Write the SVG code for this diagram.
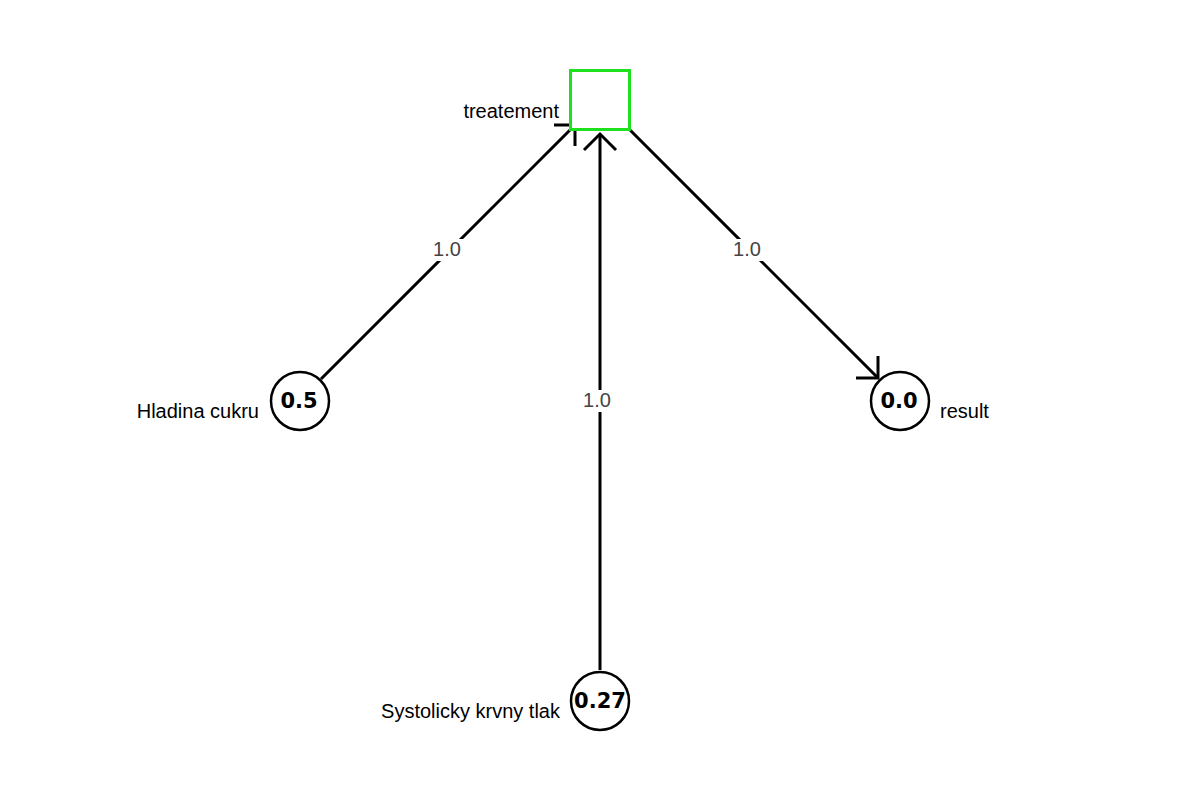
<svg xmlns="http://www.w3.org/2000/svg" width="1200" height="800" viewBox="0 0 1200 800">
<style>
.edge{stroke:#000;stroke-width:3;fill:none}
.head{stroke:#000;stroke-width:3;fill:none}
.elabel{font-family:"Liberation Sans",Arial,sans-serif;font-size:20px;fill:#444;text-anchor:middle}
.lbg{fill:#fff}
.node circle{fill:#fff;stroke:#000;stroke-width:2.5}
.val{font-family:"DejaVu Sans",Verdana,sans-serif;font-size:21px;font-weight:bold;text-anchor:middle}
.name{font-family:"Liberation Sans",Arial,sans-serif;font-size:20px;fill:#000}
.dec{fill:#fff;stroke:#1ee01e;stroke-width:3}
</style>
<rect width="1200" height="800" fill="#fff"/>
<g id="connectors">
  <line class="edge" x1="321" y1="379" x2="575" y2="125"/>
  <polyline class="head" points="554,125 575,125 575,146"/>
  <rect class="lbg" x="430" y="239" width="34" height="22"/>
  <text class="elabel" x="447" y="256">1.0</text>

  <line class="edge" x1="600" y1="670" x2="600" y2="135"/>
  <polyline class="head" points="584,150 600,134 616,150"/>
  <rect class="lbg" x="580" y="390" width="34" height="22"/>
  <text class="elabel" x="597" y="407">1.0</text>

  <line class="edge" x1="625" y1="125" x2="878" y2="378"/>
  <polyline class="head" points="878,356 878,378 856,378"/>
  <rect class="lbg" x="730" y="239" width="34" height="22"/>
  <text class="elabel" x="747" y="256">1.0</text>
</g>
<g id="treatement">
  <rect class="dec" x="570.5" y="70.5" width="59" height="59"/>
  <text class="name" x="559" y="118" text-anchor="end">treatement</text>
</g>
<g id="hladina" class="node">
  <circle cx="300" cy="401" r="29"/>
  <text class="val" x="299" y="408">0.5</text>
  <text class="name" x="259" y="418" text-anchor="end">Hladina cukru</text>
</g>
<g id="result" class="node">
  <circle cx="900" cy="401" r="29"/>
  <text class="val" x="899" y="408">0.0</text>
  <text class="name" x="940" y="418">result</text>
</g>
<g id="systolic" class="node">
  <circle cx="600" cy="701" r="29"/>
  <text class="val" x="600" y="708">0.27</text>
  <text class="name" x="560" y="718" text-anchor="end">Systolicky krvny tlak</text>
</g>
</svg>
